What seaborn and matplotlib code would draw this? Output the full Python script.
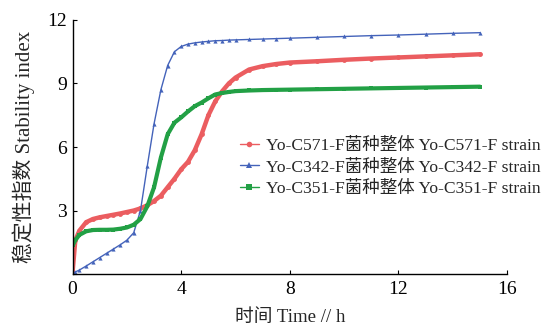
import numpy as np
import pandas as pd
import matplotlib
matplotlib.use("Agg")
import matplotlib.pyplot as plt
from matplotlib.lines import Line2D
import seaborn as sns

time_h = [0, 0.1, 0.25, 0.5, 0.75, 1.0, 1.25, 1.5, 1.75, 2.0, 2.25, 2.5, 2.75,
          3.0, 3.25, 3.5, 3.75, 4.0, 4.25, 4.5, 4.75, 5.0, 5.25, 5.5, 5.75,
          6.0, 6.5, 7.0, 7.5, 8, 9, 10, 11, 12, 13, 14, 15]

c571 = [0.1, 1.6, 2.05, 2.45, 2.6, 2.68, 2.74, 2.8, 2.86, 2.93, 3.0, 3.1, 3.25,
        3.45, 3.7, 4.1, 4.5, 4.95, 5.3, 5.85, 6.6, 7.5, 8.15, 8.62, 9.0,
        9.28, 9.66, 9.82, 9.92, 9.99, 10.05, 10.12, 10.18, 10.23, 10.28, 10.33, 10.38]

c342 = [0.05, 0.1, 0.19, 0.38, 0.58, 0.78, 0.98, 1.18, 1.38, 1.6, 1.95, 3.0, 5.1,
        7.1, 8.7, 9.85, 10.5, 10.75, 10.86, 10.92, 10.96, 10.99, 11.02, 11.03, 11.05,
        11.06, 11.08, 11.1, 11.12, 11.14, 11.18, 11.22, 11.26, 11.29, 11.33, 11.37, 11.4]

c351 = [1.35, 1.6, 1.85, 2.02, 2.08, 2.09, 2.09, 2.1, 2.14, 2.2, 2.33, 2.6, 3.2,
        4.1, 5.5, 6.6, 7.15, 7.4, 7.68, 7.93, 8.1, 8.3, 8.48, 8.55, 8.6,
        8.64, 8.67, 8.69, 8.7, 8.71, 8.73, 8.75, 8.77, 8.79, 8.81, 8.83, 8.85]

labels = ["Yo-C571-F菌种整体 Yo-C571-F strain",
          "Yo-C342-F菌种整体 Yo-C342-F strain",
          "Yo-C351-F菌种整体 Yo-C351-F strain"]
colors = ["#EB5D60", "#4463BA", "#22A045"]
markers = ["o", "^", "s"]

sns.set_style("ticks")
fam = ["Liberation Serif", "Noto Sans CJK SC"]
plt.rcParams["font.family"] = fam

fig = plt.figure(figsize=(5.5, 3.33), dpi=100)
ax = fig.add_axes([0.132, 0.177, 0.790, 0.763])

series = [c571, c342, c351]
lws = [3.2, 1.0, 3.0]
mss = [3.5, 3.0, 3.5]
for vals, lab, col, mk, lw, ms in zip(series, labels, colors, markers, lws, mss):
    df = pd.DataFrame({"t": time_h, "v": vals})
    sns.lineplot(data=df, x="t", y="v", ax=ax, color=col, marker=mk,
                 markersize=ms, linewidth=lw, markeredgewidth=0, legend=False)

ax.set_xlim(0, 16)
ax.set_ylim(0, 12)
ax.set_xticks([0, 4, 8, 12, 16])
ax.set_xticklabels(["0", "4", "8", "12", "16"])
ax.set_yticks([0, 3, 6, 9, 12])
ax.set_yticklabels(["", "3", "6", "9", "12"])
ax.tick_params(direction="in", length=3, width=0.8, labelsize=14, colors="black")
ax.tick_params(axis="x", pad=5)
ax.tick_params(axis="y", pad=4)
for s in ["top", "right"]:
    ax.spines[s].set_visible(False)
for s in ["left", "bottom"]:
    ax.spines[s].set_linewidth(1.0)
    ax.spines[s].set_color("black")

ax.set_xlabel("时间 Time // h", fontsize=13.5, family=fam, labelpad=8)
ax.set_ylabel("稳定性指数 Stability index", fontsize=15, family=fam, labelpad=9)

handles = [Line2D([], [], color=c, marker=m, markersize=4, linewidth=1.0,
                  markeredgewidth=0) for c, m in zip(colors, markers)]
fig.legend(handles, labels, loc="center left", bbox_to_anchor=(0.436, 0.497),
           frameon=False, handlelength=1.1, handletextpad=0.4,
           labelspacing=0.3, borderaxespad=0, borderpad=0,
           prop={"family": fam, "size": 12.6})

fig.savefig("out.png", dpi=100, facecolor="white")
